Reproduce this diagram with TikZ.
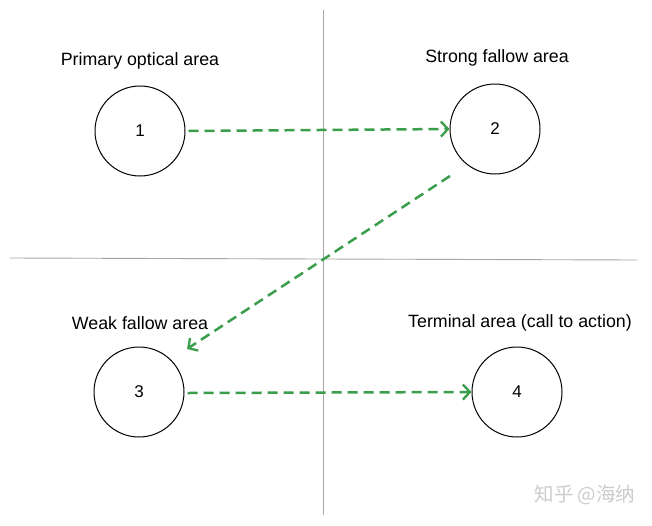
\documentclass[tikz,border=0pt]{standalone}
\usepackage{fontspec}
\setmainfont{Liberation Sans}
\newfontfamily\cjk{Noto Sans CJK SC}
\usetikzlibrary{arrows.meta}
\definecolor{flowgreen}{HTML}{3A9E4C}
\begin{document}
\begin{tikzpicture}[x=1pt,y=-1pt,
  area/.style={circle,draw=black,line width=1pt,minimum size=90pt,inner sep=0pt,font=\fontsize{17}{20}\selectfont},
  lbl/.style={font=\fontsize{17.8}{21}\selectfont,inner sep=0pt},
  axis/.style={draw=black!35,line width=0.9pt},
  flow/.style={draw=flowgreen,line width=2.5pt,dash pattern=on 10pt off 6pt,
    -{Straight Barb[length=7pt,width=15pt,line width=2.3pt]}}]
\useasboundingbox (0,0) rectangle (652,525);
\fill[white] (0,0) rectangle (652,525);
\coordinate (vt) at (323,10);
\coordinate (vb) at (323,515);
\coordinate (hl) at (10,258);
\coordinate (hr) at (637,260);
\draw[axis] (vt) -- (vb);
\draw[axis] (hl) -- (hr);
\node[area] (n1) at (140,131) {1};
\node[area] (n2) at (495,129) {2};
\node[area] (n3) at (139,392) {3};
\node[area] (n4) at (517,392) {4};
\node[lbl] (l1) at (140,61) {Primary optical area};
\node[lbl] (l2) at (497,58) {Strong fallow area};
\node[lbl] (l3) at (140,323) {Weak fallow area};
\node[lbl] (l4) at (520,323) {Terminal area (call to action)};
\coordinate (s2) at (450,176);
\coordinate (e3) at (187,349);
\draw[flow] (n1.east) ++(3,0) -- (n2.west);
\draw[flow] (s2) -- (e3);
\draw[flow] (n3.east) ++(3,1) -- (n4.west);
\node[font=\cjk\fontsize{19.5}{22}\selectfont,text=black!20,inner sep=0pt] (wm) at (585,495) {知乎 @海纳};
\end{tikzpicture}
\end{document}
